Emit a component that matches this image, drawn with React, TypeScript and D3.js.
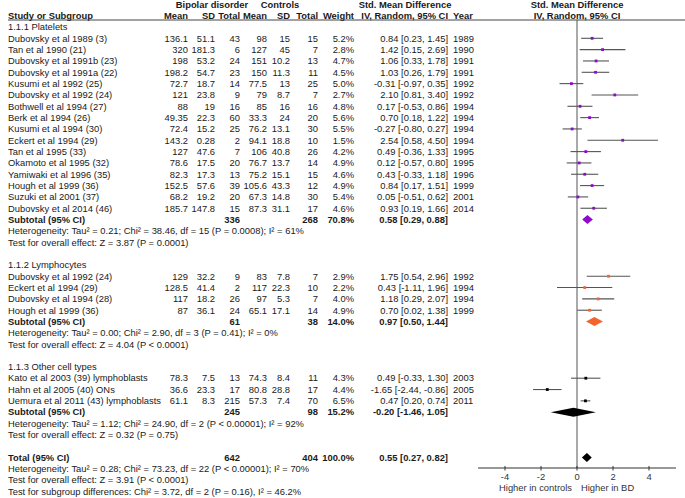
import React from "react";
import * as d3 from "d3";

type Study = {
  name: string; m1: number; sd1: number; n1: number;
  m2: number; sd2: number; n2: number; w: number;
  smd: number; lo: number; hi: number; year: number;
};

const plateletStudies: Study[] = [
  { name: "Dubovsky et al 1989 (3)", m1: 136.1, sd1: 51.1, n1: 43, m2: 98, sd2: 15, n2: 15, w: 5.2, smd: 0.84, lo: 0.23, hi: 1.45, year: 1989 },
  { name: "Tan et al 1990 (21)", m1: 320, sd1: 181.3, n1: 6, m2: 127, sd2: 45, n2: 7, w: 2.8, smd: 1.42, lo: 0.15, hi: 2.69, year: 1990 },
  { name: "Dubovsky et al 1991b (23)", m1: 198, sd1: 53.2, n1: 24, m2: 151, sd2: 10.2, n2: 13, w: 4.7, smd: 1.06, lo: 0.33, hi: 1.78, year: 1991 },
  { name: "Dubovsky et al 1991a (22)", m1: 198.2, sd1: 54.7, n1: 23, m2: 150, sd2: 11.3, n2: 11, w: 4.5, smd: 1.03, lo: 0.26, hi: 1.79, year: 1991 },
  { name: "Kusumi et al 1992 (25)", m1: 72.7, sd1: 18.7, n1: 14, m2: 77.5, sd2: 13, n2: 25, w: 5.0, smd: -0.31, lo: -0.97, hi: 0.35, year: 1992 },
  { name: "Dubovsky et al 1992 (24)", m1: 121, sd1: 23.8, n1: 9, m2: 79, sd2: 8.7, n2: 7, w: 2.7, smd: 2.10, lo: 0.81, hi: 3.40, year: 1992 },
  { name: "Bothwell et al 1994 (27)", m1: 88, sd1: 19, n1: 16, m2: 85, sd2: 16, n2: 16, w: 4.8, smd: 0.17, lo: -0.53, hi: 0.86, year: 1994 },
  { name: "Berk et al 1994 (26)", m1: 49.35, sd1: 22.3, n1: 60, m2: 33.3, sd2: 24, n2: 20, w: 5.6, smd: 0.70, lo: 0.18, hi: 1.22, year: 1994 },
  { name: "Kusumi et al 1994 (30)", m1: 72.4, sd1: 15.2, n1: 25, m2: 76.2, sd2: 13.1, n2: 30, w: 5.5, smd: -0.27, lo: -0.80, hi: 0.27, year: 1994 },
  { name: "Eckert et al 1994 (29)", m1: 143.2, sd1: 0.28, n1: 2, m2: 94.1, sd2: 18.8, n2: 10, w: 1.5, smd: 2.54, lo: 0.58, hi: 4.50, year: 1994 },
  { name: "Tan et al 1995 (33)", m1: 127, sd1: 47.6, n1: 7, m2: 106, sd2: 40.8, n2: 26, w: 4.2, smd: 0.49, lo: -0.36, hi: 1.33, year: 1995 },
  { name: "Okamoto et al 1995 (32)", m1: 78.6, sd1: 17.5, n1: 20, m2: 76.7, sd2: 13.7, n2: 14, w: 4.9, smd: 0.12, lo: -0.57, hi: 0.80, year: 1995 },
  { name: "Yamiwaki et al 1996 (35)", m1: 82.3, sd1: 17.3, n1: 13, m2: 75.2, sd2: 15.1, n2: 15, w: 4.6, smd: 0.43, lo: -0.33, hi: 1.18, year: 1996 },
  { name: "Hough et al 1999 (36)", m1: 152.5, sd1: 57.6, n1: 39, m2: 105.6, sd2: 43.3, n2: 12, w: 4.9, smd: 0.84, lo: 0.17, hi: 1.51, year: 1999 },
  { name: "Suzuki et al 2001 (37)", m1: 68.2, sd1: 19.2, n1: 20, m2: 67.3, sd2: 14.8, n2: 30, w: 5.4, smd: 0.05, lo: -0.51, hi: 0.62, year: 2001 },
  { name: "Dubovsky et al 2014 (46)", m1: 185.7, sd1: 147.8, n1: 15, m2: 87.3, sd2: 31.1, n2: 17, w: 4.6, smd: 0.93, lo: 0.19, hi: 1.66, year: 2014 },
];

const lymphocyteStudies: Study[] = [
  { name: "Dubovsky et al 1992 (24)", m1: 129, sd1: 32.2, n1: 9, m2: 83, sd2: 7.8, n2: 7, w: 2.9, smd: 1.75, lo: 0.54, hi: 2.96, year: 1992 },
  { name: "Eckert et al 1994 (29)", m1: 128.5, sd1: 41.4, n1: 2, m2: 117, sd2: 22.3, n2: 10, w: 2.2, smd: 0.43, lo: -1.11, hi: 1.96, year: 1994 },
  { name: "Dubovsky et al 1994 (28)", m1: 117, sd1: 18.2, n1: 26, m2: 97, sd2: 5.3, n2: 7, w: 4.0, smd: 1.18, lo: 0.29, hi: 2.07, year: 1994 },
  { name: "Hough et al 1999 (36)", m1: 87, sd1: 36.1, n1: 24, m2: 65.1, sd2: 17.1, n2: 14, w: 4.9, smd: 0.70, lo: 0.02, hi: 1.38, year: 1999 },
];

const otherStudies: Study[] = [
  { name: "Kato et al 2003 (39) lymphoblasts", m1: 78.3, sd1: 7.5, n1: 13, m2: 74.3, sd2: 8.4, n2: 11, w: 4.3, smd: 0.49, lo: -0.33, hi: 1.30, year: 2003 },
  { name: "Hahn et  al 2005 (40) ONs", m1: 36.6, sd1: 23.3, n1: 17, m2: 80.8, sd2: 28.8, n2: 17, w: 4.4, smd: -1.65, lo: -2.44, hi: -0.86, year: 2005 },
  { name: "Uemura et al 2011 (43) lymphoblasts", m1: 61.1, sd1: 8.3, n1: 215, m2: 57.3, sd2: 7.4, n2: 70, w: 6.5, smd: 0.47, lo: 0.20, hi: 0.74, year: 2011 },
];

const subgroupTitles = ["1.1.1 Platelets", "1.1.2 Lymphocytes", "1.1.3 Other cell types"];
const subgroupColors = ["#8E0BCB", "#F2652E", "#000000"];
const subtotalN1 = [336, 61, 245];
const subtotalN2 = [268, 38, 98];
const subtotalW = [70.8, 14.0, 15.2];
const subtotalSmd = [0.58, 0.97, -0.20];
const subtotalLo = [0.29, 0.50, -1.46];
const subtotalHi = [0.88, 1.44, 1.05];
const heterogeneityTexts = [
  "Heterogeneity: Tau\u00b2 = 0.21; Chi\u00b2 = 38.46, df = 15 (P = 0.0008); I\u00b2 = 61%",
  "Heterogeneity: Tau\u00b2 = 0.00; Chi\u00b2 = 2.90, df = 3 (P = 0.41); I\u00b2 = 0%",
  "Heterogeneity: Tau\u00b2 = 1.12; Chi\u00b2 = 24.90, df = 2 (P < 0.00001); I\u00b2 = 92%",
];
const overallEffectTexts = [
  "Test for overall effect: Z = 3.87 (P = 0.0001)",
  "Test for overall effect: Z = 4.04 (P < 0.0001)",
  "Test for overall effect: Z = 0.32 (P = 0.75)",
];

const totalN1 = 642;
const totalN2 = 404;
const totalW = 100.0;
const totalSmd = 0.55;
const totalLo = 0.27;
const totalHi = 0.82;
const totalTexts = [
  "Heterogeneity: Tau\u00b2 = 0.28; Chi\u00b2 = 73.23, df = 22 (P < 0.00001); I\u00b2 = 70%",
  "Test for overall effect: Z = 3.91 (P < 0.0001)",
  "Test for subgroup differences: Chi\u00b2 = 3.72, df = 2 (P = 0.16), I\u00b2 = 46.2%",
];

const axisTicks = [-4, -2, 0, 2, 4];
const axisLabels = ["Higher in controls", "Higher in BD"];

const W = 685;
const H = 498;
const FONT = "'Liberation Sans', Arial, sans-serif";
const FS = 9.4;
const TEXT = "#1a1a1a";

const COL = {
  name: 8,
  m1: 188, sd1: 215, n1: 240,
  m2: 267, sd2: 290, n2: 318,
  w: 354, ci: 448, year: 453,
};

const fmtCI = (s: number, l: number, h: number) =>
  `${s.toFixed(2)} [${l.toFixed(2)}, ${h.toFixed(2)}]`;

type Row =
  | { kind: "title"; text: string; i: number }
  | { kind: "study"; s: Study; g: number; i: number }
  | { kind: "subtotal"; g: number; i: number }
  | { kind: "note"; text: string; i: number }
  | { kind: "total"; i: number };

function buildRows(): Row[] {
  const rows: Row[] = [];
  const groups = [plateletStudies, lymphocyteStudies, otherStudies];
  let i = -1;
  groups.forEach((studies, g) => {
    rows.push({ kind: "title", text: subgroupTitles[g], i });
    i++;
    studies.forEach((s) => { rows.push({ kind: "study", s, g, i }); i++; });
    rows.push({ kind: "subtotal", g, i }); i++;
    rows.push({ kind: "note", text: heterogeneityTexts[g], i }); i++;
    rows.push({ kind: "note", text: overallEffectTexts[g], i }); i++;
    i++; // blank line
  });
  rows.push({ kind: "total", i }); i++;
  totalTexts.forEach((t) => { rows.push({ kind: "note", text: t, i }); i++; });
  return rows;
}

export default function App() {
  const rows = buildRows();
  const y = d3.scaleLinear().domain([0, 1]).range([38.3, 38.3 + 11.33]);
  const x = d3.scaleLinear().domain([-5.5, 5.5]).range([478, 676]);
  const axisY = 468;
  const topY = 20;

  const T = (props: any) => (
    <text fontFamily={FONT} fontSize={FS} fill={TEXT} dy="0.35em" {...props} />
  );

  const diamond = (s: number, l: number, h: number, cy: number, half: number) =>
    d3.line()([
      [x(l), cy], [x(s), cy - half], [x(h), cy], [x(s), cy + half],
    ]) + "Z";

  return (
    <svg width={W} height={H} style={{ position: "absolute", left: 0, top: 0, background: "#fff" }}>
      {/* header */}
      <g>
        <T x={212} y={5} textAnchor="middle" fontWeight="bold">Bipolar disorder</T>
        <T x={280} y={5} textAnchor="middle" fontWeight="bold">Controls</T>
        <T x={405} y={5} textAnchor="middle" fontWeight="bold">Std. Mean Difference</T>
        <T x={577} y={5} textAnchor="middle" fontWeight="bold">Std. Mean Difference</T>
        <T x={COL.name} y={15.5} fontWeight="bold">Study or Subgroup</T>
        <T x={COL.m1} y={15.5} textAnchor="end" fontWeight="bold">Mean</T>
        <T x={COL.sd1} y={15.5} textAnchor="end" fontWeight="bold">SD</T>
        <T x={COL.n1} y={15.5} textAnchor="end" fontWeight="bold">Total</T>
        <T x={COL.m2} y={15.5} textAnchor="end" fontWeight="bold">Mean</T>
        <T x={COL.sd2} y={15.5} textAnchor="end" fontWeight="bold">SD</T>
        <T x={COL.n2} y={15.5} textAnchor="end" fontWeight="bold">Total</T>
        <T x={COL.w} y={15.5} textAnchor="end" fontWeight="bold">Weight</T>
        <T x={COL.ci} y={15.5} textAnchor="end" fontWeight="bold">IV, Random, 95% CI</T>
        <T x={COL.year} y={15.5} fontWeight="bold">Year</T>
        <T x={577} y={15.5} textAnchor="middle" fontWeight="bold">IV, Random, 95% CI</T>
      </g>
      <line x1={8} x2={W} y1={topY} y2={topY} stroke="#444" strokeWidth={1} />

      {/* zero line */}
      <line x1={x(0)} x2={x(0)} y1={topY} y2={axisY} stroke="#555" strokeWidth={1} />

      {rows.map((r, k) => {
        const cy = r.kind === "title" ? y(r.i) - 0.5 : y(r.i);
        if (r.kind === "title" || r.kind === "note") {
          return <T key={k} x={COL.name} y={cy}>{r.text}</T>;
        }
        if (r.kind === "study") {
          const s = r.s;
          const col = subgroupColors[r.g];
          return (
            <g key={k}>
              <T x={COL.name} y={cy}>{s.name}</T>
              <T x={COL.m1} y={cy} textAnchor="end">{String(s.m1)}</T>
              <T x={COL.sd1} y={cy} textAnchor="end">{String(s.sd1)}</T>
              <T x={COL.n1} y={cy} textAnchor="end">{String(s.n1)}</T>
              <T x={COL.m2} y={cy} textAnchor="end">{String(s.m2)}</T>
              <T x={COL.sd2} y={cy} textAnchor="end">{String(s.sd2)}</T>
              <T x={COL.n2} y={cy} textAnchor="end">{String(s.n2)}</T>
              <T x={COL.w} y={cy} textAnchor="end">{s.w.toFixed(1) + "%"}</T>
              <T x={COL.ci} y={cy} textAnchor="end">{fmtCI(s.smd, s.lo, s.hi)}</T>
              <T x={COL.year} y={cy}>{String(s.year)}</T>
              <line x1={x(s.lo)} x2={x(s.hi)} y1={cy} y2={cy} stroke="#555" strokeWidth={1.1} />
              <rect x={x(s.smd) - 1.4} y={cy - 1.4} width={2.8} height={2.8} fill={col} />
            </g>
          );
        }
        if (r.kind === "subtotal") {
          const g = r.g;
          return (
            <g key={k}>
              <T x={COL.name} y={cy} fontWeight="bold">Subtotal (95% CI)</T>
              <T x={COL.n1} y={cy} textAnchor="end" fontWeight="bold">{String(subtotalN1[g])}</T>
              <T x={COL.n2} y={cy} textAnchor="end" fontWeight="bold">{String(subtotalN2[g])}</T>
              <T x={COL.w} y={cy} textAnchor="end" fontWeight="bold">{subtotalW[g].toFixed(1) + "%"}</T>
              <T x={COL.ci} y={cy} textAnchor="end" fontWeight="bold">{fmtCI(subtotalSmd[g], subtotalLo[g], subtotalHi[g])}</T>
              <path d={diamond(subtotalSmd[g], subtotalLo[g], subtotalHi[g], cy, 4.5)} fill={subgroupColors[g]} />
            </g>
          );
        }
        return (
          <g key={k}>
            <T x={COL.name} y={cy} fontWeight="bold">Total (95% CI)</T>
            <T x={COL.n1} y={cy} textAnchor="end" fontWeight="bold">{String(totalN1)}</T>
            <T x={COL.n2} y={cy} textAnchor="end" fontWeight="bold">{String(totalN2)}</T>
            <T x={COL.w} y={cy} textAnchor="end" fontWeight="bold">{totalW.toFixed(1) + "%"}</T>
            <T x={COL.ci} y={cy} textAnchor="end" fontWeight="bold">{fmtCI(totalSmd, totalLo, totalHi)}</T>
            <path d={diamond(totalSmd, totalLo, totalHi, cy, 4.5)} fill="#000" />
          </g>
        );
      })}

      {/* axis */}
      <line x1={x(-5.5)} x2={x(5.5)} y1={axisY} y2={axisY} stroke="#333" strokeWidth={1} />
      {axisTicks.map((t) => (
        <g key={t}>
          <line x1={x(t)} x2={x(t)} y1={axisY - 2} y2={axisY + 2.5} stroke="#333" strokeWidth={1} />
          <T x={x(t)} y={axisY + 9} textAnchor="middle" fill="#333">{String(t)}</T>
        </g>
      ))}
      <T x={x(0) - 5} y={axisY + 19.5} textAnchor="end" fill="#333">{axisLabels[0]}</T>
      <T x={x(0) + 4} y={axisY + 19.5} textAnchor="start" fill="#333">{axisLabels[1]}</T>
    </svg>
  );
}
